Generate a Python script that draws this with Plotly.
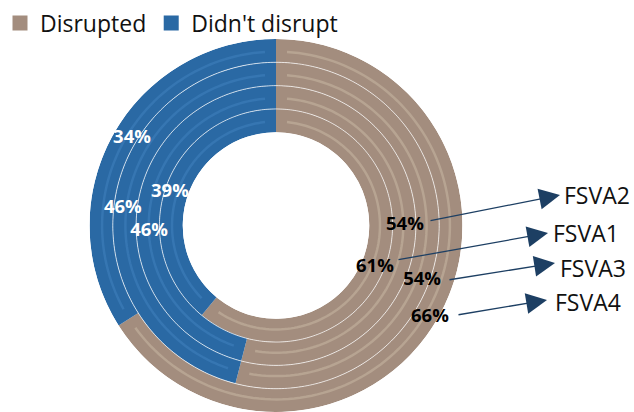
import numpy as np
import plotly.graph_objects as go

# Survey rings, innermost to outermost
series = ["FSVA1", "FSVA2", "FSVA3", "FSVA4"]
disrupted = [61, 54, 54, 66]        # % households reporting disruption
not_disrupted = [39, 46, 46, 34]    # % households not disrupted

COL_DIS = "#A38D7E"
COL_NOT = "#2A69A4"
HL_DIS = "#B7A492"
HL_NOT = "#3676B2"
FONT = "Open Sans"

W, H = 634, 412
CX, CY, R_OUT = 276, 225.5, 186.5
HOLE = 0.5

# label anchors (ring radius units, degrees ccw from 12 o'clock)
not_label_pos = [(0.77, 72.5), (1.45, 92.5), (2.61, 83.5), (3.23, 58.7)]
dis_label_pos = [(0.60, 247.3), (1.53, 270.2), (2.69, 249.5), (3.68, 239.3)]

# series-name arrows: (tail px, tip px, text left px / centre y px)
arrow_geo = {
    "FSVA2": ((429, 221), (560, 195), (562, 195)),
    "FSVA1": ((397, 260), (548, 233), (551, 233)),
    "FSVA3": ((448, 280), (555, 263), (558, 268)),
    "FSVA4": ((457, 315), (547, 300), (553, 302)),
}

n = len(series)
deg_not = np.array(not_disrupted) * 3.6
deg_dis = np.array(disrupted) * 3.6
base = np.arange(n)

fig = go.Figure()

fig.add_trace(go.Barpolar(
    name="Disrupted", r=[1] * n, base=base,
    theta=deg_not + deg_dis / 2, width=deg_dis,
    marker=dict(color=COL_DIS, line=dict(width=0)),
    hoverinfo="skip", showlegend=False,
))
fig.add_trace(go.Barpolar(
    name="Didn't disrupt", r=[1] * n, base=base,
    theta=deg_not / 2, width=deg_not,
    marker=dict(color=COL_NOT, line=dict(width=0)),
    hoverinfo="skip", showlegend=False,
))

# legend entries with larger square swatches
for nm, col in (("Disrupted", COL_DIS), ("Didn't disrupt", COL_NOT)):
    fig.add_trace(go.Scatterpolar(
        r=[None], theta=[None], mode="markers", name=nm,
        marker=dict(symbol="square", size=15, color=col),
        hoverinfo="skip",
    ))

# bevel highlight arcs along the middle of each segment
ring_px = R_OUT * (1 - HOLE) / n
for i in range(n):
    rr = i + 0.46
    rad_px = R_OUT * HOLE + rr * ring_px
    inset = np.degrees(11.0 / rad_px)
    for a0, a1, col in ((0, deg_not[i], HL_NOT), (deg_not[i], 360, HL_DIS)):
        th = np.linspace(a0 + inset, a1 - inset, 120)
        fig.add_trace(go.Scatterpolar(
            r=[rr] * len(th), theta=th, mode="lines",
            line=dict(color=col, width=2.5), showlegend=False, hoverinfo="skip",
        ))

# thin separators between rings
th_full = np.linspace(0, 360, 361)
for k in range(1, n):
    fig.add_trace(go.Scatterpolar(
        r=[k] * len(th_full), theta=th_full, mode="lines",
        line=dict(color="rgba(255,255,255,0.7)", width=1),
        showlegend=False, hoverinfo="skip",
    ))

# percentage labels
fig.add_trace(go.Scatterpolar(
    r=[p[0] for p in not_label_pos], theta=[p[1] for p in not_label_pos],
    mode="text", text=[f"{v}%" for v in not_disrupted],
    textfont=dict(family=FONT, size=18.5, color="white", weight="bold"),
    showlegend=False, hoverinfo="skip",
))
fig.add_trace(go.Scatterpolar(
    r=[p[0] for p in dis_label_pos], theta=[p[1] for p in dis_label_pos],
    mode="text", text=[f"{v}%" for v in disrupted],
    textfont=dict(family=FONT, size=18.5, color="black", weight="bold"),
    showlegend=False, hoverinfo="skip",
))

annotations = []
for name in series:
    (tx, ty), (hx, hy), (lx, ly) = arrow_geo[name]
    annotations.append(dict(
        x=hx / W, y=1 - hy / H, xref="paper", yref="paper",
        ax=tx - hx, ay=ty - hy, axref="pixel", ayref="pixel",
        text="", showarrow=True, arrowhead=2, arrowsize=3.2,
        arrowwidth=1.3, arrowcolor="#1D3F63", standoff=0, startstandoff=0,
    ))
    annotations.append(dict(
        x=lx / W, y=1 - ly / H, xref="paper", yref="paper",
        xanchor="left", yanchor="middle", text=name, showarrow=False,
        font=dict(family=FONT, size=23, color="#111111"),
    ))

fig.update_layout(
    width=W, height=H,
    margin=dict(l=0, r=0, t=0, b=0),
    paper_bgcolor="white", plot_bgcolor="white",
    polar=dict(
        domain=dict(x=[(CX - R_OUT) / W, (CX + R_OUT) / W],
                    y=[max(0.0, 1 - (CY + R_OUT) / H), 1 - (CY - R_OUT) / H]),
        hole=HOLE, bgcolor="rgba(0,0,0,0)",
        radialaxis=dict(range=[0, n], visible=False),
        angularaxis=dict(rotation=90, direction="counterclockwise",
                         visible=False),
    ),
    showlegend=True,
    legend=dict(orientation="h", x=0, y=0.996, xanchor="left", yanchor="top",
                font=dict(family=FONT, size=23, color="#111111"),
                traceorder="normal", itemwidth=30, itemsizing="trace",
                bgcolor="rgba(0,0,0,0)"),
    annotations=annotations,
)

fig.write_html("out.html")
